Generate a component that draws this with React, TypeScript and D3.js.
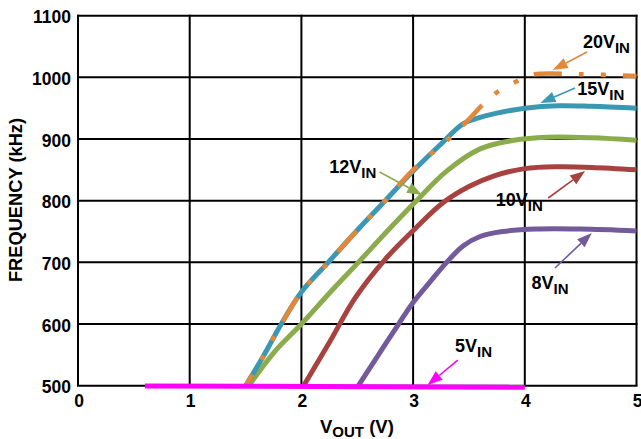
import React from "react";
import * as d3 from "d3";

// Output voltage (V) and switching frequency (kHz) per input-voltage curve
const vout20 = [1.5, 1.65, 1.82, 2.0, 2.24, 2.5, 2.75, 3.0, 3.33, 3.5, 3.63, 3.76, 3.92, 4.05, 4.5, 5.0];
const freq20 = [500, 545, 600, 652, 700, 752, 800, 850, 902, 932, 957, 977, 993, 1004, 1005, 1002];

const vout15 = [1.5, 1.65, 1.82, 2.0, 2.24, 2.5, 2.75, 3.0, 3.25, 3.45, 3.6, 3.75, 4.0, 4.3, 4.6, 5.0];
const freq15 = [500, 545, 600, 652, 700, 752, 800, 848, 892, 925, 935, 942, 950, 954, 953, 950];

const vout12 = [1.53, 1.75, 2.0, 2.25, 2.51, 2.78, 3.03, 3.3, 3.6, 3.9, 4.2, 4.6, 5.0];
const freq12 = [500, 553, 600, 650, 700, 753, 800, 848, 884, 898, 903, 902, 898];

const vout10 = [2.02, 2.25, 2.48, 2.75, 3.02, 3.27, 3.5, 3.72, 4.0, 4.3, 4.6, 5.0];
const freq10 = [500, 570, 642, 705, 755, 797, 823, 840, 852, 855, 854, 850];

const vout8 = [2.51, 2.7, 2.87, 3.0, 3.15, 3.3, 3.45, 3.6, 3.8, 4.1, 4.5, 5.0];
const freq8 = [500, 553, 600, 635, 668, 700, 727, 742, 750, 754, 754, 751];

const vout5 = [0.6, 4.0];
const freq5 = [499.5, 497.5];

// Axis ticks
const xTicks = [0, 1, 2, 3, 4, 5];
const yTicks = [500, 600, 700, 800, 900, 1000, 1100];

// Curve annotations: label anchor, arrow tail and arrow tip, in data units
const annoNames = ["20V", "15V", "12V", "10V", "8V", "5V"];
const annoLabelAt = [[4.52, 1047.6], [4.47, 971.4], [2.25, 845], [3.74, 791.4], [4.06, 656.8], [3.375, 554.7]];
const annoTail = [[4.557, 1041], [4.45, 982.8], [2.7, 846.6], [4.21, 804.4], [4.27, 690.9], [3.4, 541.6]];
const annoTip = [[4.25, 1012], [4.14, 958.4], [3.08, 809.3], [4.54, 848.2], [4.6, 747.6], [3.13, 501]];

const colors = {
  v20: "#e2883b",
  v15: "#3c97b3",
  v12: "#8bac4c",
  v10: "#a84241",
  v8: "#725a9b",
  v5: "#ff00ff",
};
const annoColors = [colors.v20, colors.v15, colors.v12, colors.v10, colors.v8, colors.v5];

const W = 641;
const H = 439;
const FONT = "'Liberation Sans', Arial, Helvetica, sans-serif";

// dash-dot-dot pattern of the 20 V curve; a long dash begins where it levels off
const DASH = [28, 17, 5, 17, 5, 17];
const DASH_PERIOD = DASH.reduce((a, b) => a + b, 0);
const DASH_ANCHOR_V = 4.08;

const x = d3.scaleLinear().domain([0, 5]).range([78, 636.5]);
const y = d3.scaleLinear().domain([500, 1100]).range([385.7, 15.7]);

const zip = (xs: number[], ys: number[]) => xs.map((v, i) => [v, ys[i]] as [number, number]);

const line = d3
  .line<[number, number]>()
  .x((d) => x(d[0]))
  .y((d) => y(d[1]))
  .curve(d3.curveCatmullRom.alpha(0.5));

const straight = d3
  .line<[number, number]>()
  .x((d) => x(d[0]))
  .y((d) => y(d[1]));

function Arrow({ tail, tip, color }: { tail: number[]; tip: number[]; color: string }) {
  const x1 = x(tail[0]);
  const y1 = y(tail[1]);
  const x2 = x(tip[0]);
  const y2 = y(tip[1]);
  const ang = Math.atan2(y2 - y1, x2 - x1);
  const len = 15;
  const half = 5.5;
  const bx = x2 - len * Math.cos(ang);
  const by = y2 - len * Math.sin(ang);
  const px = -Math.sin(ang) * half;
  const py = Math.cos(ang) * half;
  return (
    <g>
      <line x1={x1} y1={y1} x2={bx} y2={by} stroke={color} strokeWidth={1.6} />
      <polygon points={`${x2},${y2} ${bx + px},${by + py} ${bx - px},${by - py}`} fill={color} />
    </g>
  );
}

export default function App() {
  const dashRef = React.useRef<SVGPathElement>(null);
  const [dashOffset, setDashOffset] = React.useState(0);

  React.useEffect(() => {
    document.body.style.margin = "0";
  }, []);

  React.useLayoutEffect(() => {
    const p = dashRef.current;
    if (!p) return;
    const total = p.getTotalLength();
    const target = x(DASH_ANCHOR_V);
    let lo = 0;
    let hi = total;
    for (let i = 0; i < 40; i++) {
      const mid = (lo + hi) / 2;
      if (p.getPointAtLength(mid).x < target) lo = mid;
      else hi = mid;
    }
    const L = (lo + hi) / 2;
    setDashOffset(DASH_PERIOD - (L % DASH_PERIOD));
  }, []);

  return (
    <svg width={W} height={H} style={{ display: "block", background: "#fff" }} fontFamily={FONT}>
      {/* grid */}
      <g stroke="#000" strokeWidth={2}>
        {xTicks.map((t) => (
          <line key={"gx" + t} x1={x(t)} x2={x(t)} y1={y(500)} y2={y(1100) - 1} />
        ))}
        {yTicks.map((t) => (
          <line key={"gy" + t} x1={x(0) - 1} x2={x(5) + 1} y1={y(t)} y2={y(t)} />
        ))}
      </g>

      {/* tick labels */}
      <g fontWeight="bold" fontSize={17.5} fill="#000">
        {yTicks.map((t) => (
          <text key={"ty" + t} x={x(0) - 7} y={y(t) + 7.5} textAnchor="end">
            {t}
          </text>
        ))}
        {xTicks.map((t) => (
          <text key={"tx" + t} x={x(t) + 1} y={407} textAnchor="middle">
            {t}
          </text>
        ))}
      </g>

      {/* axis titles */}
      <text
        transform={`translate(22,200) rotate(-90)`}
        textAnchor="middle"
        fontWeight="bold"
        fontSize={18.3}
      >
        FREQUENCY (kHz)
      </text>
      <text x={320} y={433} fontWeight="bold" fontSize={18.5}>
        V<tspan fontSize={15} dy={4}>OUT</tspan>
        <tspan dy={-4}> (V)</tspan>
      </text>

      {/* curves */}
      <g fill="none" strokeLinecap="butt" strokeLinejoin="round">
        <path d={line(zip(vout8, freq8)) || ""} stroke={colors.v8} strokeWidth={5} />
        <path d={line(zip(vout10, freq10)) || ""} stroke={colors.v10} strokeWidth={5} />
        <path d={line(zip(vout12, freq12)) || ""} stroke={colors.v12} strokeWidth={5} />
        <path d={line(zip(vout15, freq15)) || ""} stroke={colors.v15} strokeWidth={5} />
        <path
          ref={dashRef}
          d={line(zip(vout20, freq20)) || ""}
          stroke={colors.v20}
          strokeWidth={4.6}
          strokeDasharray={DASH.join(" ")}
          strokeDashoffset={dashOffset}
        />
        <path d={straight(zip(vout5, freq5)) || ""} stroke={colors.v5} strokeWidth={5} />
      </g>

      {/* annotations */}
      {annoNames.map((name, i) => (
        <g key={"a" + name}>
          <Arrow tail={annoTail[i]} tip={annoTip[i]} color={annoColors[i]} />
          <text
            x={x(annoLabelAt[i][0])}
            y={y(annoLabelAt[i][1])}
            fontWeight="bold"
            fontSize={18}
            fill="#000"
          >
            {name}
            <tspan fontSize={15} dy={5}>IN</tspan>
          </text>
        </g>
      ))}
    </svg>
  );
}
